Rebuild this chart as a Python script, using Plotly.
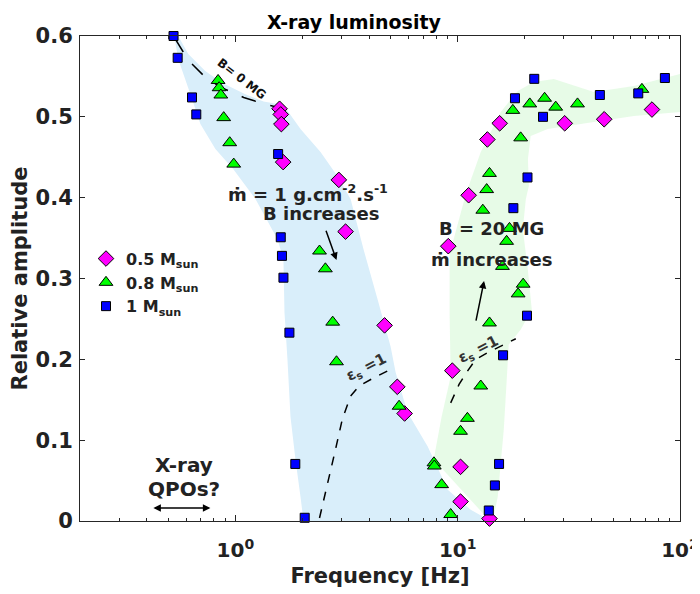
import numpy as np
import plotly.graph_objects as go

# ---- data ----
f05 = [1.58, 1.60, 1.61, 1.64, 2.92, 3.13, 4.69, 5.35, 5.77, 9.07, 9.46, 10.3, 10.3, 13.9, 11.2, 13.6, 15.45, 30.3, 45.6, 74.8]
a05 = [0.510, 0.503, 0.491, 0.444, 0.422, 0.358, 0.242, 0.166, 0.133, 0.340, 0.186, 0.067, 0.024, 0.003, 0.403, 0.472, 0.492, 0.492, 0.497, 0.509]

f08 = [0.836, 0.845, 0.86, 0.886, 0.943, 0.983, 2.39, 2.54, 2.74, 2.85, 5.45, 7.82, 7.85, 8.47, 9.3, 10.3, 11.06, 12.7, 13.9,
       19.7, 18.7, 15.9, 16.6, 17.1, 12.97, 13.5, 13.9, 19.2, 17.7, 21.1, 24.6, 27.6, 34.6, 67.4]
a08 = [0.545, 0.536, 0.527, 0.499, 0.468, 0.4415, 0.334, 0.312, 0.246, 0.197, 0.142, 0.072, 0.068, 0.045, 0.008, 0.111, 0.127, 0.167, 0.245,
       0.293, 0.281, 0.315, 0.346, 0.362, 0.3845, 0.41, 0.43, 0.474, 0.508, 0.516, 0.523, 0.512, 0.516, 0.534]

f1 = [0.527, 0.55, 0.638, 0.667, 1.557, 1.60, 1.62, 1.645, 1.75, 1.86, 2.05, 13.8, 14.7, 15.35, 16.0, 20.5, 17.8, 20.6, 18.1, 22.1, 24.2, 43.6, 64.9, 85.5]
a1 = [0.600, 0.573, 0.524, 0.503, 0.454, 0.351, 0.328, 0.301, 0.233, 0.0706, 0.004, 0.013, 0.044, 0.0706, 0.205, 0.254, 0.387, 0.425, 0.523, 0.547, 0.50, 0.527, 0.529, 0.548]

# shaded regions (outline)
blue_f = [0.531, 0.553, 0.627, 0.696, 0.813, 0.979, 1.231, 1.546, 1.645, 1.663, 1.715, 1.769, 1.863, 1.963, 2.025,
          14.08, 11.44, 9.02, 7.33, 5.95, 5.26, 4.99, 4.36, 3.77, 3.30, 2.88, 2.415, 1.963, 1.645, 1.338, 1.109, 0.874, 0.732, 0.614, 0.553]
blue_a = [0.600, 0.5716, 0.5282, 0.491, 0.4601, 0.4353, 0.3982, 0.3486, 0.3238, 0.258, 0.1999, 0.1293, 0.076, 0.0301, 0.0,
          0.0, 0.014, 0.0388, 0.0921, 0.1342, 0.1838, 0.216, 0.2742, 0.3362, 0.3981, 0.4266, 0.4564, 0.485, 0.5146, 0.519, 0.528, 0.542, 0.5567, 0.5777, 0.600]

green_f = [7.80, 8.47, 9.30, 9.20, 9.20, 10.87, 12.70, 15.62, 18.64, 22.0, 27.06, 41.0, 62.05, 100.0,
           100.0, 62.05, 41.0, 25.4, 21.3, 20.7, 20.9, 20.25, 19.63, 20.67, 21.54, 19.22, 16.97, 16.62, 16.12, 15.14, 14.38, 13.97]
green_a = [0.076, 0.1292, 0.1788, 0.2532, 0.33, 0.4043, 0.4564, 0.506, 0.532, 0.5431, 0.5468, 0.5307, 0.5381, 0.553,
           0.5059, 0.501, 0.4936, 0.4849, 0.4762, 0.4477, 0.4143, 0.3981, 0.361, 0.3114, 0.2618, 0.237, 0.2184, 0.1751, 0.1131, 0.0301, 0.0, 0.0]

# dashed curves
b0_f = [0.537, 0.616, 0.720, 0.856, 1.090, 1.341, 1.541]
b0_a = [0.596, 0.5695, 0.551, 0.5366, 0.524, 0.516, 0.512]

eps1_f = [2.39, 2.588, 2.82, 3.024, 3.296, 3.593, 4.198, 5.164]
eps1_a = [0.0037, 0.0429, 0.0884, 0.1255, 0.1544, 0.1668, 0.1772, 0.1896]

eps2_f = [9.30, 10.14, 11.06, 12.05, 13.61, 15.62, 18.25]
eps2_a = [0.1462, 0.1689, 0.1854, 0.1999, 0.2082, 0.2164, 0.2255]

FONT = "DejaVu Sans"
TXT = "#222222"

fig = go.Figure()

fig.add_trace(go.Scatter(x=blue_f, y=blue_a, fill="toself", fillcolor="#d9eefa", mode="none",
                         showlegend=False, hoverinfo="skip"))
fig.add_trace(go.Scatter(x=green_f, y=green_a, fill="toself", fillcolor="rgba(228,251,228,0.9)", mode="none",
                         showlegend=False, hoverinfo="skip"))

for fx, ay, d in [(b0_f, b0_a, "longdash"), (eps1_f, eps1_a, "dash"), (eps2_f, eps2_a, "dash")]:
    fig.add_trace(go.Scatter(x=fx, y=ay, mode="lines", line=dict(color="black", width=1.5, dash=d),
                             showlegend=False, hoverinfo="skip"))

fig.add_trace(go.Scatter(x=f05, y=a05, mode="markers", name="0.5 M<sub>sun</sub>", cliponaxis=False,
                         marker=dict(symbol="diamond", size=12, color="#ff00ff", line=dict(color="black", width=1))))
fig.add_trace(go.Scatter(x=f08, y=a08, mode="markers", name="0.8 M<sub>sun</sub>", cliponaxis=False,
                         marker=dict(symbol="triangle-up", size=12, color="#00ff00", line=dict(color="black", width=1))))
fig.add_trace(go.Scatter(x=f1, y=a1, mode="markers", name="1 M<sub>sun</sub>", cliponaxis=False,
                         marker=dict(symbol="square", size=9, color="#0000ff", line=dict(color="black", width=1))))

L = np.log10

def txt(x, y, s, size=17, angle=0, color=TXT):
    fig.add_annotation(x=L(x), y=y, xref="x", yref="y", text=s, showarrow=False, textangle=angle,
                       font=dict(family=FONT, size=size, color=color, weight="bold"))

txt(1.07, 0.547, "B= 0 MG", size=12, angle=38, color="#111111")
txt(2.13, 0.406, "ṁ = 1 g.cm<sup>-2</sup>.s<sup>-1</sup>", size=18)
txt(2.44, 0.381, "B increases", size=18)
txt(14.2, 0.362, "B = 20 MG", size=18)
txt(14.2, 0.3238, "ṁ increases", size=18)
txt(0.586, 0.0698, "X-ray", size=20)
txt(0.586, 0.040, "QPOs?", size=20)
txt(3.89, 0.19, "ε<sub>s</sub> =1", size=15, angle=-27, color="#333333")
txt(12.43, 0.2123, "ε<sub>s</sub> =1", size=15, angle=-27, color="#333333")

def arrow(x0, y0, x1, y1, both=False):
    fig.add_annotation(x=L(x1), y=y1, ax=L(x0), ay=y0, xref="x", yref="y", axref="x", ayref="y",
                       text="", showarrow=True, arrowhead=2, arrowsize=1, arrowwidth=1.5, arrowcolor="black",
                       arrowside="end+start" if both else "end", startarrowhead=2, startarrowsize=1)

arrow(2.543, 0.3608, 2.85, 0.3228)
arrow(12.05, 0.2461, 13.14, 0.2969)
arrow(0.421, 0.0161, 0.772, 0.0161, both=True)

axis_common = dict(showline=True, linecolor="#262626", linewidth=1, mirror="ticks", ticks="inside",
                   tickcolor="#262626", showgrid=False, zeroline=False, automargin=False)

fig.update_xaxes(type="log", range=[L(0.2), 2], tickvals=[1, 10, 100],
                 ticktext=["10<sup>0</sup>", "10<sup>1</sup>", "10<sup>2</sup>"], ticklen=6, ticklabelstandoff=11,
                 tickfont=dict(family=FONT, size=20, color=TXT, weight="bold"),
                 minor=dict(ticks="inside", ticklen=3, tickcolor="#262626",
                            tickvals=[0.2, 0.3, 0.4, 0.5, 0.6, 0.7, 0.8, 0.9, 2, 3, 4, 5, 6, 7, 8, 9,
                                      20, 30, 40, 50, 60, 70, 80, 90]),
                 title=dict(text="Frequency [Hz]", font=dict(family=FONT, size=21, color=TXT, weight="bold"), standoff=7),
                 **axis_common)
fig.update_yaxes(range=[0, 0.6], tickvals=[0, 0.1, 0.2, 0.3, 0.4, 0.5, 0.6],
                 ticktext=["0", "0.1", "0.2", "0.3", "0.4", "0.5", "0.6"], ticklen=5, ticklabelstandoff=2,
                 tickfont=dict(family=FONT, size=21, color=TXT, weight="bold"),
                 title=dict(text="Relative amplitude", font=dict(family=FONT, size=21, color=TXT, weight="bold"), standoff=8),
                 **axis_common)

fig.update_layout(
    width=700, height=586,
    margin=dict(l=72, r=28, t=28, b=73),
    paper_bgcolor="white", plot_bgcolor="white",
    title=dict(text="X-ray luminosity", x=346 / 700, xanchor="center", y=0.976, yanchor="middle",
               font=dict(family=FONT, size=19, color="black", weight="bold")),
    legend=dict(x=0.01, y=0.576, xanchor="left", yanchor="top", bgcolor="rgba(0,0,0,0)",
                font=dict(family=FONT, size=16, color=TXT, weight="bold"), itemwidth=30, tracegroupgap=0),
    showlegend=True,
)

fig.write_html("out.html")
